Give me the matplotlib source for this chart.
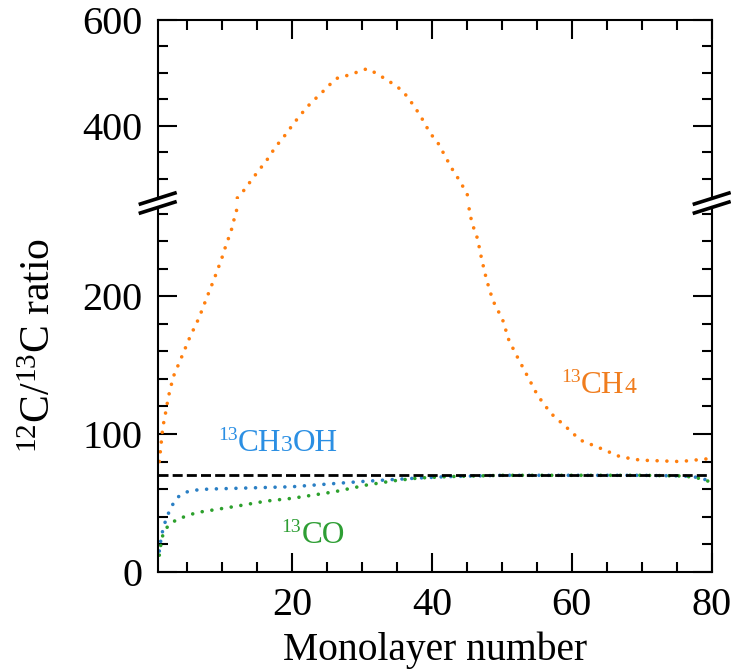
import matplotlib
matplotlib.use("Agg")
import matplotlib.pyplot as plt
import matplotlib.transforms as mtransforms
from matplotlib.ticker import MultipleLocator, FixedLocator

plt.rcParams['font.family'] = ['Liberation Serif', 'DejaVu Serif']
plt.rcParams['mathtext.fontset'] = 'custom'
plt.rcParams['mathtext.rm'] = 'Liberation Serif'
plt.rcParams['mathtext.it'] = 'Liberation Serif:italic'

# ---- data -------------------------------------------------------------
ch4_x = [1, 1.3, 1.5, 1.8, 2.3, 3.0, 4.2, 5.4, 6.65, 7.75, 8.8, 9.9, 10.4, 11.3,
         11.95, 12.9, 13.8, 14.76, 15.7, 16.6, 17.4, 18.3, 19.3, 20.1, 21.1,
         22.06, 23.1, 24.1, 25.3, 26.35, 27.8, 29.4, 30.7, 32.1, 33.4, 34.6,
         35.8, 36.7, 37.55, 38.4, 39.1, 39.9, 40.9, 41.6, 42.3, 43.0, 43.85,
         44.6, 45.3, 45.6, 46.0, 46.5, 47.1, 47.8, 48.7, 49.4, 50.1, 51.0, 52.3,
         53.7, 55.1, 57.0, 59.2, 61.2, 64.1, 66.9, 69.8, 75.5, 80]
ch4_y = [80, 95, 105, 112.6, 127, 141.6, 156, 170.7, 184, 198.5, 212, 227, 235,
         248, 261, 275, 291, 308, 324, 339.5, 356, 371.6, 387.5, 403, 419,
         434.8, 448.6, 461, 477, 489.7, 495, 502, 508, 499, 488, 478, 466, 451,
         435, 418, 400.8, 383.7, 366.7, 349.7, 332.6, 316, 298.6, 281.5, 263.8,
         256, 249, 242, 227, 212, 197, 190, 183, 168, 155, 141.6, 128, 115, 105,
         95.6, 89.6, 83.5, 81, 80, 82.3]

ch3oh_x = [1, 1.3, 1.7, 2.1, 2.8, 3.75, 5, 6.3, 8, 11.6, 15, 20, 26, 30, 34, 38,
           42, 46, 50, 60, 70, 76, 78, 80]
ch3oh_y = [15, 26, 34, 40, 48, 54.5, 58, 59.3, 60, 60.5, 61, 61.7, 64, 65.5,
           66.8, 68, 69, 69.5, 70, 70, 70, 69.5, 68.5, 65.5]

co_x = [1, 1.2, 1.5, 2.2, 3.5, 6.3, 11.6, 16.3, 20, 26, 30.7, 34.5, 38, 42, 46,
        50, 60, 70, 76, 78, 80]
co_y = [12, 19, 26.6, 33, 38, 42.9, 47.2, 51.3, 53.3, 58, 63, 66, 68, 69, 69.5,
        70, 70, 70, 69.5, 68, 65]

ref_ratio = 70
x_ticks = [20, 40, 60, 80]
low_ticks = [0, 100, 200]
high_ticks = [400, 600]

# ---- figure -----------------------------------------------------------
W, H = 731, 671
fig = plt.figure(figsize=(W / 100, H / 100), dpi=100)

def frac_rect(x0, y0, x1, y1):
    return [x0 / W, 1 - y1 / H, (x1 - x0) / W, (y1 - y0) / H]

ax_hi = fig.add_axes(frac_rect(157.7, 20, 711.7, 198.5))
ax_lo = fig.add_axes(frac_rect(157.7, 206.8, 711.7, 571.7), sharex=ax_hi)

c_orange = '#ff7f0e'
c_blue = '#2a7fc4'
c_green = '#2ca02c'
dots = (0, (0.01, 2.7))
dot_kw = dict(linestyle=dots, lw=2.6, dash_capstyle='round')

for ax in (ax_hi, ax_lo):
    ax.plot(ch4_x, ch4_y, color=c_orange, **dot_kw)
    ax.plot(ch3oh_x, ch3oh_y, color=c_blue, **dot_kw)
    ax.plot(co_x, co_y, color=c_green, **dot_kw)
    ax.axhline(ref_ratio, color='black', lw=2.0, linestyle=(0, (3.6, 1.5)))
    for s in ax.spines.values():
        s.set_linewidth(1.5)
    ax.tick_params(which='both', direction='in', width=1.5, labelsize=29,
                   pad=11, right=True)
    ax.tick_params(which='major', length=13.5)
    ax.tick_params(which='minor', length=7)

ax_hi.set_xlim(0.77, 80)
ax_hi.set_ylim(263, 600)
ax_lo.set_ylim(0, 265)

ax_hi.xaxis.set_major_locator(FixedLocator(x_ticks))
ax_hi.xaxis.set_minor_locator(MultipleLocator(5))
ax_hi.set_yticks(high_ticks)
ax_hi.yaxis.set_minor_locator(MultipleLocator(50))
ax_lo.set_yticks(low_ticks)
ax_lo.yaxis.set_minor_locator(MultipleLocator(20))

ax_hi.spines['bottom'].set_visible(False)
ax_lo.spines['top'].set_visible(False)
ax_hi.tick_params(axis='x', which='both', top=True, bottom=False,
                  labelbottom=False, labeltop=False)
ax_lo.tick_params(axis='x', which='both', top=False, bottom=True)

# axis break marks on both vertical spines
kw = dict(color='black', lw=2.6, solid_capstyle='butt')
for xx_px in (157.7, 711.7):
    for yc in (198.5, 207.5):
        x0, x1 = xx_px - 19, xx_px + 19
        y0, y1 = yc + 6, yc - 6
        fig.add_artist(plt.Line2D([x0 / W, x1 / W], [1 - y0 / H, 1 - y1 / H],
                                  transform=fig.transFigure, **kw))

fig.text(434.7 / W, 1 - 660 / H, 'Monolayer number', ha='center',
         va='baseline', fontsize=28.5)
fig.text(40 / W, 1 - 345 / H, r'$^{12}$C/$^{13}$C ratio', rotation=90,
         ha='center', va='center', fontsize=30)

# species labels with superscript mass number
renderer = fig.canvas.get_renderer()

def species(ax, x, y, parts, color):
    dx = 0.0
    for s, size, rise in parts:
        tr = mtransforms.offset_copy(ax.transData, fig=fig, x=dx, y=rise,
                                     units='points')
        t = ax.text(x, y, s, fontsize=size, color=color, transform=tr,
                    ha='left', va='baseline')
        dx += t.get_window_extent(renderer).width * 72 / fig.dpi

species(ax_lo, 58.5, 129.8,
        [('13', 14, 8), ('CH', 22.5, 0), ('4', 17, 0)], '#f07d1e')
species(ax_lo, 9.37, 87.6,
        [('13', 14, 8), ('CH', 22.5, 0), ('3', 17, 0), ('OH', 22.5, 0)],
        '#2b8fe3')
species(ax_lo, 18.5, 20.8, [('13', 14, 8), ('CO', 22.5, 0)], '#2e9e34')

fig.savefig('out.png', dpi=100)
